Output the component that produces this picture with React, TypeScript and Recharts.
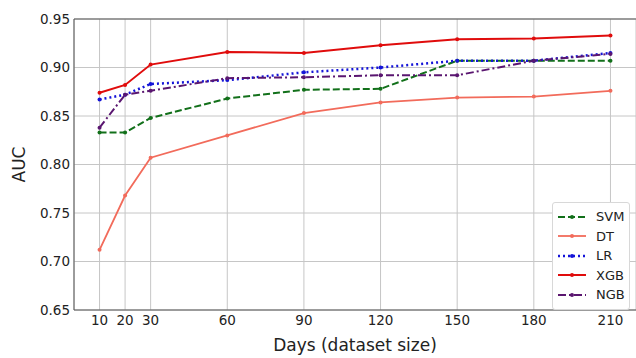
import {
  LineChart,
  Line,
  XAxis,
  YAxis,
  CartesianGrid,
  Legend,
  ReferenceLine,
} from "recharts";

const days = [10, 20, 30, 60, 90, 120, 150, 180, 210];
const svm = [0.833, 0.833, 0.848, 0.868, 0.877, 0.878, 0.907, 0.907, 0.907];
const dt = [0.712, 0.768, 0.807, 0.83, 0.853, 0.864, 0.869, 0.87, 0.876];
const lr = [0.867, 0.872, 0.883, 0.887, 0.895, 0.9, 0.907, 0.907, 0.915];
const xgb = [0.874, 0.882, 0.903, 0.916, 0.915, 0.923, 0.929, 0.93, 0.933];
const ngb = [0.838, 0.872, 0.876, 0.889, 0.89, 0.892, 0.892, 0.907, 0.914];
const yTicks = [0.65, 0.7, 0.75, 0.8, 0.85, 0.9, 0.95];

const data = days.map((d, i) => ({
  day: d,
  SVM: svm[i],
  DT: dt[i],
  LR: lr[i],
  XGB: xgb[i],
  NGB: ngb[i],
}));

const series = [
  { key: "SVM", color: "#12701a", dash: "7 3", width: 2 },
  { key: "DT", color: "#f26b5b", dash: undefined, width: 1.8 },
  { key: "LR", color: "#1414d8", dash: "2 3", width: 2.5 },
  { key: "XGB", color: "#e00c0c", dash: undefined, width: 2 },
  { key: "NGB", color: "#5a1670", dash: "8 3 2 3", width: 2 },
];

const font = "'DejaVu Sans', sans-serif";

function LegendBox() {
  return (
    <div
      style={{
        boxSizing: "border-box",
        width: 78,
        border: "1px solid #d8d8d8",
        borderRadius: 3,
        background: "#fff",
        padding: "4px 0 4px 4px",
        fontFamily: font,
        fontSize: 13,
        color: "#222",
        textAlign: "left",
        whiteSpace: "nowrap",
      }}
    >
      {series.map(s => (
        <div
          key={s.key}
          style={{ display: "flex", alignItems: "center", height: 19.5 }}
        >
          <svg
            width={30}
            height={10}
            style={{ marginRight: 9, flexShrink: 0 }}
          >
            <line
              x1={1}
              y1={5}
              x2={29}
              y2={5}
              stroke={s.color}
              strokeWidth={s.width}
              strokeDasharray={s.dash}
            />
            <circle cx={15} cy={5} r={2} fill={s.color} />
          </svg>
          <span>{s.key}</span>
        </div>
      ))}
    </div>
  );
}

export default function App() {
  return (
    <div style={{ position: "absolute", left: 0, top: 0, background: "#fff" }}>
      <LineChart
        width={636}
        height={358}
        data={data}
        margin={{ top: 19, right: 0, bottom: 0, left: 0 }}
      >
        <CartesianGrid stroke="#c6c6c6" strokeWidth={1} />
        <XAxis
          dataKey="day"
          type="number"
          domain={[0, 220]}
          ticks={days}
          tickFormatter={v => String(v)}
          tickSize={0}
          tickMargin={5}
          height={48}
          stroke="#555"
          tick={{ fill: "#222", fontSize: 13.5, fontFamily: font }}
          label={{
            value: "Days (dataset size)",
            position: "insideBottom",
            offset: 7,
            fill: "#222",
            fontSize: 17,
            fontFamily: font,
          }}
        />
        <YAxis
          type="number"
          domain={[0.65, 0.95]}
          ticks={yTicks}
          tickFormatter={v => v.toFixed(2)}
          tickSize={0}
          tickMargin={4}
          width={74}
          stroke="#555"
          tick={{ fill: "#222", fontSize: 13.5, fontFamily: font }}
          label={{
            value: "AUC",
            angle: -90,
            position: "insideLeft",
            offset: 19,
            fill: "#222",
            fontSize: 17,
            fontFamily: font,
            style: { textAnchor: "middle" },
          }}
        />
        <ReferenceLine y={0.95} stroke="#555" strokeWidth={1.2} />
        {series.map(s => (
          <Line
            key={s.key}
            dataKey={s.key}
            type="linear"
            stroke={s.color}
            strokeWidth={s.width}
            strokeDasharray={s.dash}
            dot={{ r: 2, fill: s.color, stroke: s.color, strokeWidth: 0 }}
            activeDot={false}
            isAnimationActive={false}
          />
        ))}
        <Legend
          layout="vertical"
          align="center"
          verticalAlign="middle"
          content={() => <LegendBox />}
          wrapperStyle={{ left: 552, top: 202, width: 78, height: 101 }}
        />
      </LineChart>
    </div>
  );
}
